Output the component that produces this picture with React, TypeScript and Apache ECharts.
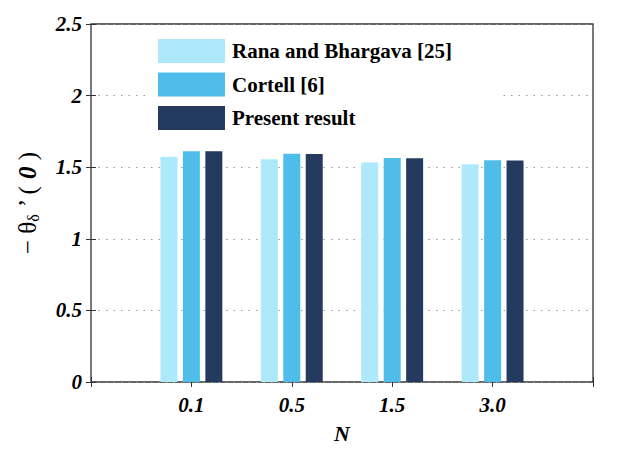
import React, { useEffect, useRef } from "react";
import * as echarts from "echarts";

const categories = ["0.1", "0.5", "1.5", "3.0"];
const categoryPositions = [1, 2, 3, 4];
const seriesNames = ["Rana and Bhargava [25]", "Cortell [6]", "Present result"];
const ranaValues = [1.573, 1.555, 1.532, 1.521];
const cortellValues = [1.612, 1.594, 1.564, 1.548];
const presentValues = [1.612, 1.593, 1.563, 1.547];
const seriesColors = ["#aee9fb", "#4ebde9", "#253a5f"];

const FONT = "'Liberation Serif', 'DejaVu Serif', serif";

export default function App() {
  const ref = useRef<HTMLDivElement>(null);
  useEffect(() => {
    document.body.style.margin = "0";
    if (!ref.current) return;
    const chart = echarts.init(ref.current, null, { renderer: "svg" });
    const allValues = [ranaValues, cortellValues, presentValues];
    const labelMap: Record<number, string> = {};
    categoryPositions.forEach((p, i) => (labelMap[p] = categories[i]));
    const tickLabelStyle = {
      fontFamily: FONT,
      fontWeight: "bold",
      fontStyle: "italic",
      fontSize: 21,
      color: "#000",
    };
    const option: any = {
      animation: false,
      grid: {
        left: 91,
        right: 29,
        top: 24,
        bottom: 60,
        show: true,
        borderColor: "#333",
        borderWidth: 1.3,
        backgroundColor: "transparent",
      },
      legend: {
        orient: "vertical",
        left: 148,
        top: 30,
        padding: [9, 50, 10, 10],
        itemWidth: 67,
        itemHeight: 24,
        itemGap: 9.5,
        backgroundColor: "#fff",
        icon: "rect",
        data: seriesNames,
        textStyle: {
          fontFamily: FONT,
          fontWeight: "bold",
          fontSize: 21,
          color: "#000",
          padding: [0, 0, 0, 2],
        },
      },
      xAxis: [
        {
          type: "value",
          min: 0,
          max: 5,
          interval: 1,
          name: "N",
          nameLocation: "middle",
          nameGap: 40,
          nameTextStyle: { ...tickLabelStyle, fontSize: 22 },
          axisLine: { show: false, lineStyle: { color: "#000" } },
          axisTick: {
            show: true,
            inside: true,
            length: 5,
            lineStyle: { color: "#333" },
          },
          axisLabel: {
            ...tickLabelStyle,
            margin: 12,
            formatter: (v: number) => labelMap[v] ?? "",
          },
          splitLine: { show: false },
        },
        {
          type: "value",
          position: "top",
          min: 0,
          max: 5,
          interval: 1,
          axisLine: { show: false },
          axisTick: {
            show: true,
            inside: true,
            length: 5,
            lineStyle: { color: "#333" },
          },
          axisLabel: { show: false },
          splitLine: { show: false },
        },
      ],
      yAxis: [
        {
          type: "value",
          min: 0,
          max: 2.5,
          interval: 0.5,
          name: "{a|− θ}{s|δ}{a| ’ ( }{b|0}{a| )}",
          nameLocation: "middle",
          nameGap: 50,
          nameRotate: 90,
          nameTextStyle: {
            color: "#000",
            fontFamily: FONT,
            fontSize: 25,
            rich: {
              a: { fontFamily: FONT, fontSize: 25, color: "#000" },
              b: {
                fontFamily: FONT,
                fontSize: 25,
                fontStyle: "italic",
                fontWeight: "bold",
                color: "#000",
              },
              s: {
                fontFamily: FONT,
                fontSize: 16,
                color: "#000",
                verticalAlign: "bottom",
                padding: [12, 0, 0, 0],
              },
            },
          },
          axisLine: { show: false, lineStyle: { color: "#000" } },
          axisTick: {
            show: true,
            inside: true,
            length: 5,
            lineStyle: { color: "#333" },
          },
          axisLabel: { ...tickLabelStyle, margin: 9 },
          splitLine: {
            show: true,
            lineStyle: { color: "#999", type: [1.5, 6], width: 1 },
          },
        },
        {
          type: "value",
          position: "right",
          min: 0,
          max: 2.5,
          interval: 0.5,
          axisLine: { show: false },
          axisTick: {
            show: true,
            inside: true,
            length: 5,
            lineStyle: { color: "#333" },
          },
          axisLabel: { show: false },
          splitLine: { show: false },
        },
      ],
      series: seriesNames.map((name, si) => ({
        name,
        type: "bar",
        xAxisIndex: 0,
        yAxisIndex: 0,
        barWidth: 17,
        barGap: "32%",
        itemStyle: { color: seriesColors[si] },
        data: categoryPositions.map((p, i) => [p, allValues[si][i]]),
      })),
    };
    chart.setOption(option);
    return () => chart.dispose();
  }, []);
  return <div ref={ref} style={{ width: 622, height: 449 }} />;
}
